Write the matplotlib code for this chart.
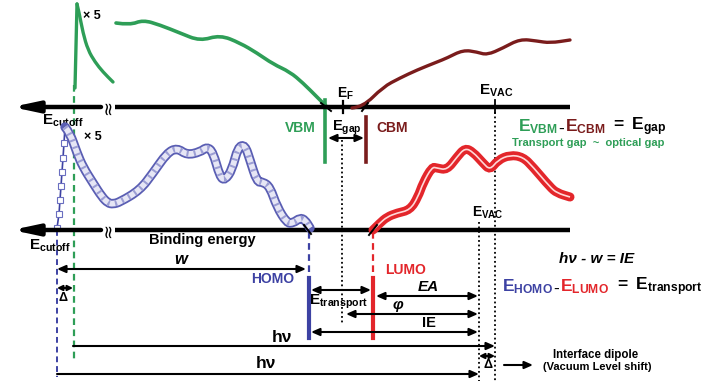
import matplotlib
matplotlib.use("Agg")
import matplotlib.pyplot as plt
from matplotlib.path import Path
from matplotlib.patches import PathPatch

plt.rcParams['font.family'] = ['Liberation Sans', 'DejaVu Sans']
plt.rcParams['mathtext.fontset'] = 'custom'
plt.rcParams['mathtext.rm'] = 'Liberation Sans'
plt.rcParams['mathtext.bf'] = 'Liberation Sans:bold'
plt.rcParams['mathtext.it'] = 'Liberation Sans:italic:bold'

# ---------------- data (schematic, pixel-space) ----------------
green_spike_x = [75, 77]
green_spike_y = [88, 4]
green_decay_x = [77, 79, 83, 88, 95, 103, 113]
green_decay_y = [4, 12, 33, 50, 62, 72, 82]
green_main_x = [116, 130, 143, 160, 180, 200, 220, 240, 257, 273, 290, 303, 317, 327]
green_main_y = [23, 25, 20, 25, 33, 41, 35, 43, 53, 64, 72, 83, 97, 107]
darkred_x = [352, 363, 383, 400, 417, 437, 447, 463, 477, 487, 503, 520, 537, 550, 570]
darkred_y = [108, 107, 87, 78, 70, 62, 58, 50, 52, 55, 48, 39, 41, 43, 40]
blue_edge_x = [57, 59, 60, 61, 62, 63, 64, 65]
blue_edge_y = [228, 214, 200, 186, 172, 158, 143, 127]
blue_main_x = [65, 70, 77, 83, 93, 102, 108, 113, 120, 140, 153, 167, 177, 187, 200, 207,
               213, 220, 225, 232, 238, 245, 250, 257, 263, 270, 277, 287, 293, 300, 305, 310]
blue_main_y = [127, 133, 153, 167, 183, 197, 203, 204, 202, 190, 173, 153, 148, 155, 152, 147,
               152, 177, 180, 170, 147, 145, 160, 182, 182, 187, 207, 223, 223, 218, 220, 228]
red_x = [373, 380, 387, 397, 410, 418, 423, 432, 437, 447, 457, 465, 473, 483, 490, 498,
         510, 523, 533, 550, 557, 570]
red_y = [230, 223, 217, 213, 210, 197, 183, 167, 168, 170, 157, 148, 152, 163, 170, 160,
         155, 157, 167, 187, 193, 197]

GREEN = '#2e9e57'
DRED = '#7a1c1c'
BLUE = '#3d42a3'
RED = '#e3262b'

fig = plt.figure(figsize=(7.11, 3.81), dpi=100)
ax = fig.add_axes([0, 0, 1, 1])
ax.set_xlim(0, 711)
ax.set_ylim(381, 0)
ax.axis('off')


def smooth(xs, ys, **kw):
    pts = list(zip(xs, ys))
    verts = [pts[0]]
    codes = [Path.MOVETO]
    for i in range(1, len(pts) - 1):
        mid = ((pts[i][0] + pts[i + 1][0]) / 2, (pts[i][1] + pts[i + 1][1]) / 2)
        verts += [pts[i], mid]
        codes += [Path.CURVE3, Path.CURVE3]
    verts.append(pts[-1])
    codes.append(Path.LINETO)
    ax.add_patch(PathPatch(Path(verts, codes), fill=False, **kw))


# ---------------- axes (energy lines) ----------------
for yy in (107, 230):
    ax.annotate('', xy=(12, yy), xytext=(101, yy),
                arrowprops=dict(arrowstyle='-|>,head_length=1.5,head_width=0.32', lw=3.2,
                                color='black', shrinkA=0, shrinkB=0))
    ax.plot([115, 570], [yy, yy], color='black', lw=3.2, solid_capstyle='butt', zorder=3)
    ax.text(108, yy, '≈', rotation=90, fontsize=13, ha='center', va='center',
            family='DejaVu Sans', color='black')

# ---------------- dashed / dotted verticals ----------------
ax.plot([74, 74], [85, 362], color=GREEN, lw=1.6, ls=(0, (3, 2)))
ax.plot([57, 57], [230, 377], color=BLUE, lw=1.4, ls=(0, (3, 2)))
ax.plot([309, 309], [232, 278], color=BLUE, lw=1.6, ls=(0, (3, 2)))
ax.plot([373, 373], [232, 278], color=RED, lw=1.6, ls=(0, (3, 2)))
ax.plot([342, 342], [140, 325], color='black', lw=1.3, ls=(0, (1, 1.5)))
ax.plot([479, 479], [222, 381], color='black', lw=1.3, ls=(0, (1, 1.5)))
ax.plot([495, 495], [112, 381], color='black', lw=1.3, ls=(0, (1, 1.5)))
ax.plot([495, 495], [100, 113], color='black', lw=1.3)
ax.plot([343, 343], [101, 113], color='black', lw=1.6)

# ---------------- spectra ----------------
ax.plot(green_spike_x, green_spike_y, color=GREEN, lw=2.4, solid_capstyle='round')
smooth(green_decay_x, green_decay_y, color=GREEN, lw=2.4, capstyle='round')
smooth(green_main_x, green_main_y, color=GREEN, lw=2.6, capstyle='round')
smooth(darkred_x, darkred_y, color=DRED, lw=2.4, capstyle='round', zorder=4)

ax.plot(blue_edge_x, blue_edge_y, color=BLUE, lw=1.2, marker='s', ms=4, mfc='white',
        mec='#6a6ec0', mew=0.8)
smooth(blue_main_x, blue_main_y, color='#5a5eb3', lw=6.8, capstyle='round', zorder=4)
smooth(blue_main_x, blue_main_y, color='#e6e6f5', lw=4.2, zorder=5)
smooth(blue_main_x, blue_main_y, color='#9c9ed4', lw=4.2, ls=(0, (0.35, 0.9)), zorder=6)

smooth(red_x, red_y, color=RED, lw=6.5, capstyle='round', zorder=4)
smooth(red_x, red_y, color='#ffd8d8', lw=1.2, zorder=5)

# small tangent ticks
ax.plot([321, 331], [103, 111], color='black', lw=1.4, zorder=6)
ax.plot([362, 368], [111, 103], color='black', lw=1.4, zorder=6)
ax.plot([304, 311], [225, 234], color='black', lw=1.4, zorder=7)
ax.plot([369, 377], [235, 225], color='black', lw=1.4, zorder=7)

# ---------------- level bars ----------------
ax.plot([325, 325], [100, 162], color=GREEN, lw=2.6)
ax.plot([366, 366], [117, 162], color=DRED, lw=2.6)
ax.plot([309, 309], [278, 338], color=BLUE, lw=3.0)
ax.plot([373, 373], [278, 338], color=RED, lw=3.0)


def arrow(x0, x1, y, style='<|-|>', hl=0.5, hw=0.22):
    ax.annotate('', xy=(x1, y), xytext=(x0, y),
                arrowprops=dict(arrowstyle=f'{style},head_length={hl},head_width={hw}', lw=1.5,
                                color='black', shrinkA=0, shrinkB=0))


arrow(328, 364, 138)
arrow(57, 306, 269)
arrow(57, 73, 288, hl=0.3, hw=0.15)
arrow(311, 371, 290)
arrow(376, 478, 296)
arrow(346, 478, 314)
arrow(311, 478, 332)
arrow(73, 495, 346, '-|>')
arrow(57, 479, 374, '-|>')
arrow(479, 495, 356, hl=0.3, hw=0.15)
arrow(504, 533, 365, '-|>')

# ---------------- texts ----------------
B = dict(fontweight='bold', ha='center', va='center')
ax.text(92, 16, '× 5', fontsize=9, **B)
ax.text(93, 137, '× 5', fontsize=9, **B)
ax.text(63, 121, r'$\mathbf{E}_{\mathbf{cutoff}}$', fontsize=11, ha='center', va='center')
ax.text(50, 246, r'$\mathbf{E}_{\mathbf{cutoff}}$', fontsize=11, ha='center', va='center')
ax.text(345, 94, r'$\mathbf{E}_{\mathbf{F}}$', fontsize=10, ha='center', va='center')
ax.text(300, 128, 'VBM', fontsize=10, color=GREEN, **B)
ax.text(347, 128, r'$\mathbf{E}_{\mathbf{gap}}$', fontsize=10.5, ha='center', va='center')
ax.text(392, 128, 'CBM', fontsize=10, color=DRED, **B)
ax.text(496, 91, r'$\mathbf{E}_{\mathbf{VAC}}$', fontsize=11, ha='center', va='center')
ax.text(488, 213, r'$\mathbf{E}_{\mathbf{VAC}}$', fontsize=10, ha='center', va='center')
ax.text(202, 240, 'Binding energy', fontsize=10.5, **B)
ax.text(181, 259, 'w', fontsize=12, style='italic', **B)
ax.text(63, 298, 'Δ', fontsize=9, **B)
ax.text(488, 365, 'Δ', fontsize=9, **B)
ax.text(273, 279, 'HOMO', fontsize=10, color=BLUE, **B)
ax.text(406, 270, 'LUMO', fontsize=10, color=RED, **B)
ax.text(428, 287, 'EA', fontsize=11, style='italic', **B)
ax.text(309, 302, r'$\mathbf{E}_{\mathbf{transport}}$', fontsize=11, ha='left', va='center')
ax.text(398, 305, 'φ', fontsize=11, style='italic', **B)
ax.text(429, 323, 'IE', fontsize=10.5, **B)
ax.text(282, 338, 'hν', fontsize=12.5, **B)
ax.text(266, 364, 'hν', fontsize=12.5, **B)
ax.text(597, 259, 'hν - w = IE', fontsize=11, style='italic', **B)
ax.text(596, 355, 'Interface dipole', fontsize=8.3, **B)
ax.text(597, 367, '(Vacuum Level shift)', fontsize=8, **B)
ax.text(588, 143, 'Transport gap  ~  optical gap', fontsize=8, color=GREEN, **B)

renderer = fig.canvas.get_renderer()


def chain(x, y, parts, fs):
    for s, c in parts:
        t = ax.text(x, y, s, color=c, fontsize=fs, ha='left', va='center')
        x += t.get_window_extent(renderer=renderer).width


chain(518, 127, [(r'$\mathbf{E}_{\mathbf{VBM}}$', GREEN), (r'$\mathbf{\text{-}\ }$', 'black'),
                 (r'$\mathbf{E}_{\mathbf{CBM}}$', DRED), (r'$\mathbf{\ =\ E}_{\mathbf{gap}}$', 'black')], 12.5)
chain(502, 287, [(r'$\mathbf{E}_{\mathbf{HOMO}}$', BLUE), (r'$\mathbf{\text{-}\ }$', 'black'),
                 (r'$\mathbf{E}_{\mathbf{LUMO}}$', RED), (r'$\mathbf{\ =\ E}_{\mathbf{transport}}$', 'black')], 12.5)

fig.savefig('out.png', dpi=100)
